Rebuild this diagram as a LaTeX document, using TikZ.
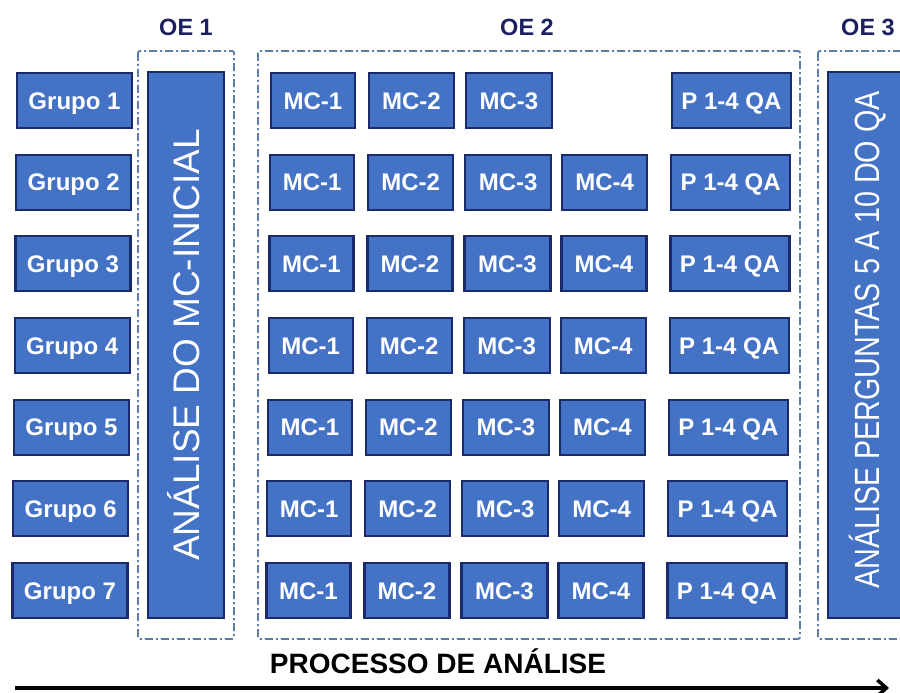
\documentclass[tikz,border=0pt]{standalone}
\usepackage{fontspec}
\setmainfont{Liberation Sans}
\newfontfamily\narrowsans[FakeStretch=0.82]{Liberation Sans}
\usetikzlibrary{arrows.meta}
\definecolor{boxfill}{HTML}{4472C4}
\definecolor{boxline}{HTML}{1A2A6C}
\definecolor{frameline}{HTML}{5A7DA5}
\definecolor{oecol}{HTML}{1A2060}
\begin{document}
\begin{tikzpicture}[x=1pt,y=-1pt,
  cell/.style={draw=boxline,fill=boxfill,line width=2.2pt,minimum height=55pt,
    inner sep=0pt,text=white,font=\bfseries\fontsize{24}{26}\selectfont,
    text height=17.2pt,text depth=0pt},
  tallbox/.style={cell,rotate=90,font=\fontsize{37}{40}\selectfont,text height=26.5pt},
  frame/.style={draw=frameline,line width=1.8pt,dash pattern=on 8pt off 3pt on 2pt off 3pt,rounded corners=2pt},
  oelabel/.style={text=oecol,font=\bfseries\fontsize{23.5}{26}\selectfont,inner sep=0pt,text height=16.8pt,text depth=0pt},
  title/.style={text=black,font=\bfseries\fontsize{28}{30}\selectfont,inner sep=0pt,text height=20pt,text depth=0pt}
]
\useasboundingbox (0,0) rectangle (900,693);
\clip (0,0) rectangle (900,693);

% frames
\draw[frame] (138,51) rectangle (234,639);
\draw[frame] (258,51) rectangle (800,639);
\draw[frame] (818,51) rectangle (930,639);

% labels
\node[oelabel] (oe1) at (186,27) {OE 1};
\node[oelabel] (oe2) at (527,27) {OE 2};
\node[oelabel] (oe3) at (868,27) {OE 3};

% tall boxes
\node[tallbox,minimum width=546pt,minimum height=76pt] (inicial) at (186,345) {ANÁLISE DO MC-INICIAL};
\node[cell,minimum width=82pt,minimum height=546pt] (qabox) at (869,345) {};
\node[rotate=90,text=white,inner sep=0pt,font=\narrowsans\fontsize{35}{38}\selectfont] (qatxt) at (868,340) {ANÁLISE PERGUNTAS 5 A 10 DO QA};

% rows
\foreach \i [evaluate=\i as \n using int(\i+1)] in {0,...,6} {
  \pgfmathsetmacro\yy{100.5+81.67*\i}
  \pgfmathsetmacro\dx{-0.75*\i}
  \node[cell,minimum width=115pt] (g\n) at ({74.5+\dx},\yy) {Grupo \n};
  \node[cell,minimum width=84pt] (mca\n) at ({313+\dx},\yy) {MC-1};
  \node[cell,minimum width=85pt] (mcb\n) at ({411.5+\dx},\yy) {MC-2};
  \node[cell,minimum width=86pt] (mcc\n) at ({509+\dx},\yy) {MC-3};
  \ifnum\i>0
    \node[cell,minimum width=85pt] (mcd\n) at ({605.5+\dx},\yy) {MC-4};
  \fi
  \node[cell,minimum width=119pt] (p\n) at ({731.5+\dx},\yy) {P 1-4 QA};
}

% process arrow
\node[title] (proc) at (438,663) {PROCESSO DE ANÁLISE};
\coordinate (arrS) at (15,688);
\coordinate (arrE) at (889,688);
\draw[line width=3.5pt,-{Straight Barb[length=9pt,width=16pt]}] (arrS) -- (arrE);
\end{tikzpicture}
\end{document}
